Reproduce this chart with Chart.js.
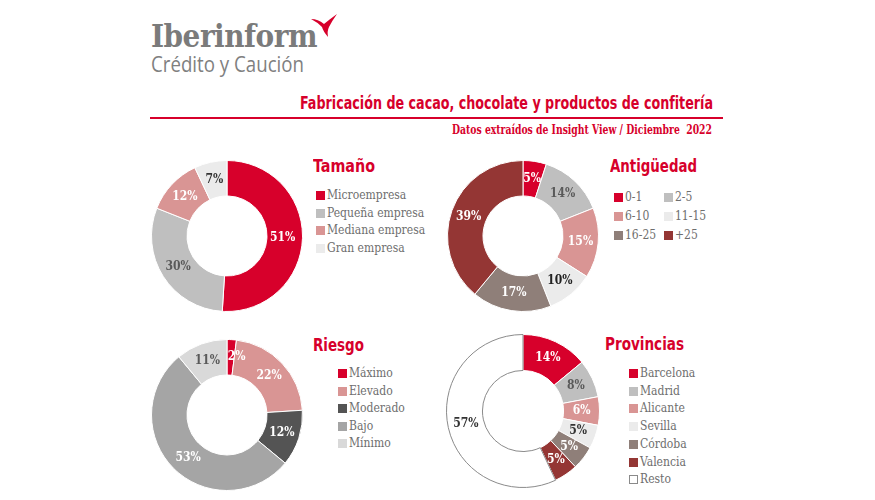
<!DOCTYPE html>
<html lang="es">
<head>
<meta charset="utf-8">
<script src="https://cdn.jsdelivr.net/npm/chart.js@4.4.0/dist/chart.umd.min.js"></script>
<style>
    body { margin: 0; width: 875px; height: 500px; background: #fff; position: relative; overflow: hidden; font-family: "DejaVu Serif Condensed", "DejaVu Serif", serif; }
    .abs { position: absolute; white-space: nowrap; }
    .logo { left: 151px; top: 17px; font: bold 32px "DejaVu Serif Condensed", "DejaVu Serif", serif; color: #7b7b7b; letter-spacing: -0.5px; transform-origin: left top; }
    .logo2 { left: 151px; top: 50px; font: 21px "Open Sans", "DejaVu Sans Condensed", sans-serif; color: #808080; transform-origin: left top; }
    .titulo { font: bold 17px "Liberation Sans Narrow", "DejaVu Sans Condensed", sans-serif; color: #d7002b; transform-origin: left top; }
    .subtitulo { font: bold 12px "DejaVu Serif Condensed", "DejaVu Serif", serif; color: #d7002b; transform-origin: left top; }
    .linea { left: 150px; top: 117px; width: 573px; height: 2px; background: #d7002b; }
    .seccion { font: bold 18px "Liberation Sans Narrow", "DejaVu Sans Condensed", sans-serif; color: #d7002b; transform-origin: left top; }
    .leyenda { font-size: 12px; color: #6e6e6e; }
    .item { position: absolute; white-space: nowrap; line-height: 14px; }
    .item i { display: inline-block; width: 9px; height: 9px; margin-right: 2px; vertical-align: -1px; box-sizing: border-box; }
    canvas { position: absolute; }
</style>
</head>
<body>
<div class="abs logo" id="logo">Iberinform</div>
<div class="abs logo2" id="logo2">Crédito y Caución</div>
<svg class="abs" style="left:0;top:0" width="875" height="60">
    <path d="M311 19 Q318 19 324 24 Q330 19 337 14 Q332 21 329 27 Q327 31 328 37 Q323 31 322 27 Q317 22 311 19 Z" fill="#d7002b"/>
</svg>
<div class="abs titulo" id="titulo" style="left:300px; top:93px">Fabricación de cacao, chocolate y productos de confitería</div>
<div class="abs linea"></div>
<div class="abs subtitulo" id="subtitulo" style="left:452px; top:123px">Datos extraídos de Insight View / Diciembre&nbsp; 2022</div>

<canvas id="chartTamano" width="152" height="152" style="left:151px; top:160px"></canvas>
<canvas id="chartAntiguedad" width="152" height="152" style="left:447px; top:160px"></canvas>
<canvas id="chartRiesgo" width="152" height="152" style="left:151px; top:339px"></canvas>
<canvas id="chartProvincias" width="154" height="154" style="left:446px; top:334px"></canvas>

<div class="abs seccion" data-ancho="62" style="left:313px; top:155px">Tamaño</div>
<div class="abs seccion" data-ancho="87" style="left:610px; top:155px">Antigüedad</div>
<div class="abs seccion" data-ancho="51" style="left:313px; top:334px">Riesgo</div>
<div class="abs seccion" data-ancho="79" style="left:605px; top:333px">Provincias</div>

<div class="abs leyenda" id="leyTamano" style="left:316px; top:188px"></div>
<div class="abs leyenda" id="leyAntiguedad" style="left:614px; top:190px"></div>
<div class="abs leyenda" id="leyRiesgo" style="left:338px; top:366px"></div>
<div class="abs leyenda" id="leyProvincias" style="left:629px; top:366px"></div>

<script>
// ===== Datos =====
const tamanoLabels = ['Microempresa', 'Pequeña empresa', 'Mediana empresa', 'Gran empresa'];
const tamanoValores = [51, 30, 12, 7];

const antiguedadLabels = ['0-1', '2-5', '6-10', '11-15', '16-25', '+25'];
const antiguedadValores = [5, 14, 15, 10, 17, 39];

const riesgoLabels = ['Máximo', 'Elevado', 'Moderado', 'Bajo', 'Mínimo'];
const riesgoValores = [2, 22, 12, 53, 11];

const provinciasLabels = ['Barcelona', 'Madrid', 'Alicante', 'Sevilla', 'Córdoba', 'Valencia', 'Resto'];
const provinciasValores = [14, 8, 6, 5, 5, 5, 57];

// ===== Colores =====
const C = {
    rojo: '#d7002b',
    gris: '#bfbfbf',
    rosa: '#d99594',
    claro: '#ebebeb',
    taupe: '#8f7f79',
    granate: '#943634',
    oscuro: '#545454',
    medio: '#a5a5a5',
    minimo: '#d9d9d9',
    texto: '#595959'
};

// Etiquetas de porcentaje en el centro de cada sector
const etiquetasPlugin = {
    id: 'etiquetas',
    afterDatasetsDraw(chart) {
        const ctx = chart.ctx;
        const ds = chart.data.datasets[0];
        const meta = chart.getDatasetMeta(0);
        ctx.save();
        ctx.font = 'bold 12px "DejaVu Serif Condensed", "DejaVu Serif", serif';
        ctx.textAlign = 'center';
        ctx.textBaseline = 'middle';
        meta.data.forEach((arc, i) => {
            const p = arc.getProps(['x', 'y', 'startAngle', 'endAngle', 'innerRadius', 'outerRadius'], true);
            const a = (p.startAngle + p.endAngle) / 2;
            const r = (p.innerRadius + p.outerRadius) / 2;
            const off = (ds.labelOffsets && ds.labelOffsets[i]) || [0, 0];
            ctx.fillStyle = ds.labelColors[i];
            ctx.fillText(ds.data[i] + '%', p.x + Math.cos(a) * r + off[0], p.y + Math.sin(a) * r + off[1]);
        });
        ctx.restore();
    }
};

function crearDonut(id, labels, valores, colores, colTexto, bordes, offsets) {
    const ctx = document.getElementById(id).getContext('2d');
    return new Chart(ctx, {
        type: 'doughnut',
        data: {
            labels: labels,
            datasets: [{
                data: valores,
                backgroundColor: colores,
                borderColor: bordes || '#ffffff',
                borderWidth: 1,
                labelColors: colTexto,
                labelOffsets: offsets
            }]
        },
        options: {
            responsive: false,
            animation: false,
            cutout: '53%',
            plugins: { legend: { display: false }, tooltip: { enabled: false } }
        },
        plugins: [etiquetasPlugin]
    });
}

function crearLeyenda(id, labels, colores, posiciones, bordes) {
    const cont = document.getElementById(id);
    labels.forEach((l, i) => {
        const d = document.createElement('div');
        d.className = 'item';
        d.style.left = posiciones[i][0] + 'px';
        d.style.top = posiciones[i][1] + 'px';
        const b = bordes && bordes[i] ? 'border:1px solid ' + bordes[i] + ';' : '';
        d.innerHTML = '<i style="background:' + colores[i] + ';' + b + '"></i>' + l;
        cont.appendChild(d);
    });
}

const colTamano = [C.rojo, C.gris, C.rosa, C.claro];
crearDonut('chartTamano', tamanoLabels, tamanoValores, colTamano, ['#fff', C.texto, '#fff', '#333'],
    null, [[-2, 0], [0, 0], [0, 0], [0, 0]]);
crearLeyenda('leyTamano', tamanoLabels, colTamano, [[0, 0], [0, 17.5], [0, 35], [0, 52.5]]);

const colAntiguedad = [C.rojo, C.gris, C.rosa, C.claro, C.taupe, C.granate];
crearDonut('chartAntiguedad', antiguedadLabels, antiguedadValores, colAntiguedad,
    ['#fff', C.texto, '#fff', '#222', '#fff', '#fff']);
crearLeyenda('leyAntiguedad', antiguedadLabels, colAntiguedad,
    [[0, 0], [50, 0], [0, 19], [50, 19], [0, 38], [50, 38]]);

const colRiesgo = [C.rojo, C.rosa, C.oscuro, C.medio, C.minimo];
crearDonut('chartRiesgo', riesgoLabels, riesgoValores, colRiesgo, ['#fff', '#fff', '#fff', '#fff', C.texto],
    null, [[6, 0], [0, 0], [0, 0], [2, 2], [0, 0]]);
crearLeyenda('leyRiesgo', riesgoLabels, colRiesgo, [[0, 0], [0, 17.5], [0, 35], [0, 52.5], [0, 70]]);

const colProvincias = [C.rojo, C.gris, C.rosa, C.claro, C.taupe, C.granate, '#ffffff'];
const bordesProv = ['#fff', '#fff', '#fff', '#fff', '#fff', '#fff', '#8a8a8a'];
crearDonut('chartProvincias', provinciasLabels, provinciasValores, colProvincias,
    ['#fff', C.texto, '#fff', '#333', '#fff', '#fff', '#333'], bordesProv);
crearLeyenda('leyProvincias', provinciasLabels, colProvincias,
    [[0, 0], [0, 17.7], [0, 35.4], [0, 53.1], [0, 70.8], [0, 88.5], [0, 106.2]],
    [null, null, null, null, null, null, '#8a8a8a']);

// Ajustar ancho de los textos al original
function ajustar(el, ancho) {
    const w = el.getBoundingClientRect().width;
    if (w > 0) el.style.transform = 'scaleX(' + (ancho / w) + ')';
}
ajustar(document.getElementById('logo'), 166);
ajustar(document.getElementById('logo2'), 153);
ajustar(document.getElementById('titulo'), 413);
ajustar(document.getElementById('subtitulo'), 260);
document.querySelectorAll('.seccion').forEach(el => ajustar(el, +el.dataset.ancho));
</script>
</body>
</html>
